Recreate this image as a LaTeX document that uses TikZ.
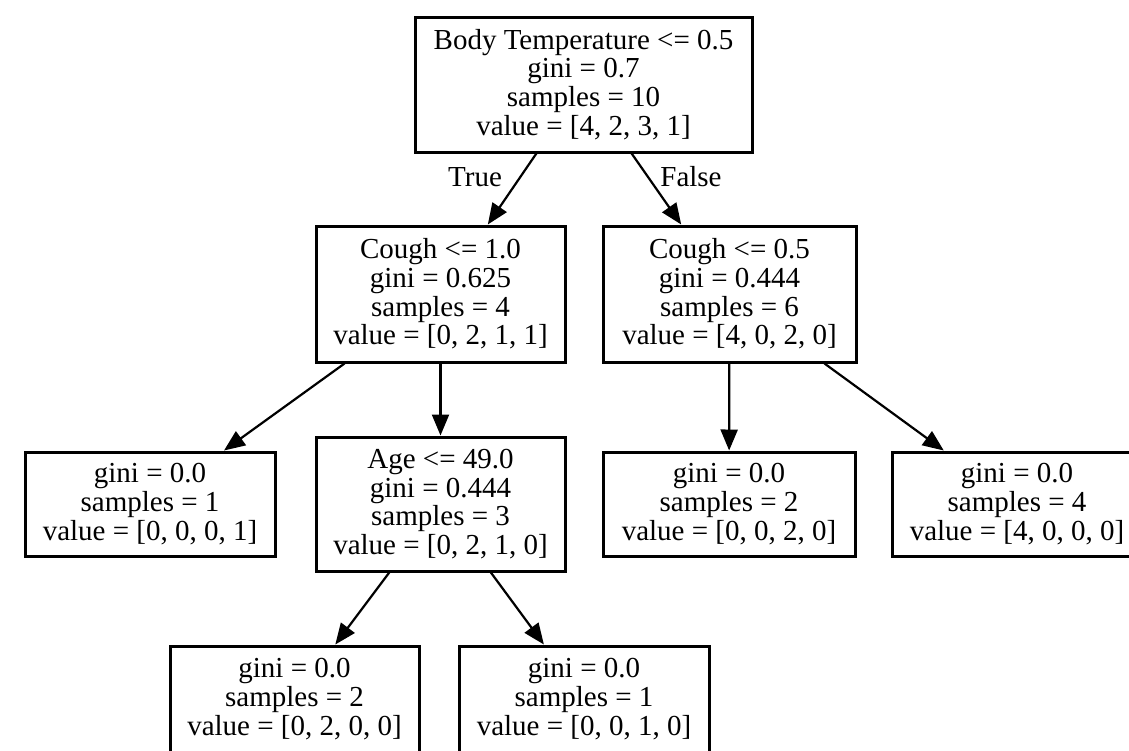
\documentclass[tikz,border=0pt]{standalone}
\usepackage{fontspec}
\setmainfont{Liberation Serif}
\usetikzlibrary{arrows.meta}
\tikzset{
  treebox/.style={draw=black, fill=white, line width=3pt, align=center, inner sep=0pt,
    font=\fontsize{29}{28.7}\selectfont, minimum width=#1},
  treebox/.default=250pt,
  edge/.style={line width=2.2pt, -{Triangle[length=21pt,width=17pt]}},
  elabel/.style={font=\fontsize{29}{29}\selectfont}
}
\begin{document}
\begin{tikzpicture}[x=1pt,y=-1pt]
\useasboundingbox (0,0) rectangle (1129,750);
\node[treebox=337pt, minimum height=135pt] (root) at (583.5,84.5)
  {Body Temperature <= 0.5\\gini = 0.7\\samples = 10\\value = [4, 2, 3, 1]};
\node[treebox=249pt, minimum height=136pt] (c1) at (440.5,294)
  {Cough <= 1.0\\gini = 0.625\\samples = 4\\value = [0, 2, 1, 1]};
\node[treebox=253pt, minimum height=136pt] (c2) at (729.5,294)
  {Cough <= 0.5\\gini = 0.444\\samples = 6\\value = [4, 0, 2, 0]};
\node[treebox=250pt, minimum height=104pt] (l1) at (150,504)
  {gini = 0.0\\samples = 1\\value = [0, 0, 0, 1]};
\node[treebox=249pt, minimum height=134pt] (age) at (440.5,504)
  {Age <= 49.0\\gini = 0.444\\samples = 3\\value = [0, 2, 1, 0]};
\node[treebox=252pt, minimum height=104pt] (l2) at (729,504)
  {gini = 0.0\\samples = 2\\value = [0, 0, 2, 0]};
\node[treebox=250pt, minimum height=104pt] (l4) at (1017,504)
  {gini = 0.0\\samples = 4\\value = [4, 0, 0, 0]};
\node[treebox=249pt, minimum height=106pt] (b1) at (294.5,699)
  {gini = 0.0\\samples = 2\\value = [0, 2, 0, 0]};
\node[treebox=250pt, minimum height=106pt] (b2) at (584,699)
  {gini = 0.0\\samples = 1\\value = [0, 0, 1, 0]};

\draw[edge] (root) -- (c1);
\draw[edge] (root) -- (c2);
\draw[edge] (c1) -- (l1);
\draw[edge] (c1) -- (age);
\draw[edge] (c2) -- (l2);
\draw[edge] (c2) -- (l4);
\draw[edge] (age) -- (b1);
\draw[edge] (age) -- (b2);
\node[elabel] (lt) at (475,177) {True};
\node[elabel] (lf) at (691,177) {False};
\end{tikzpicture}
\end{document}
